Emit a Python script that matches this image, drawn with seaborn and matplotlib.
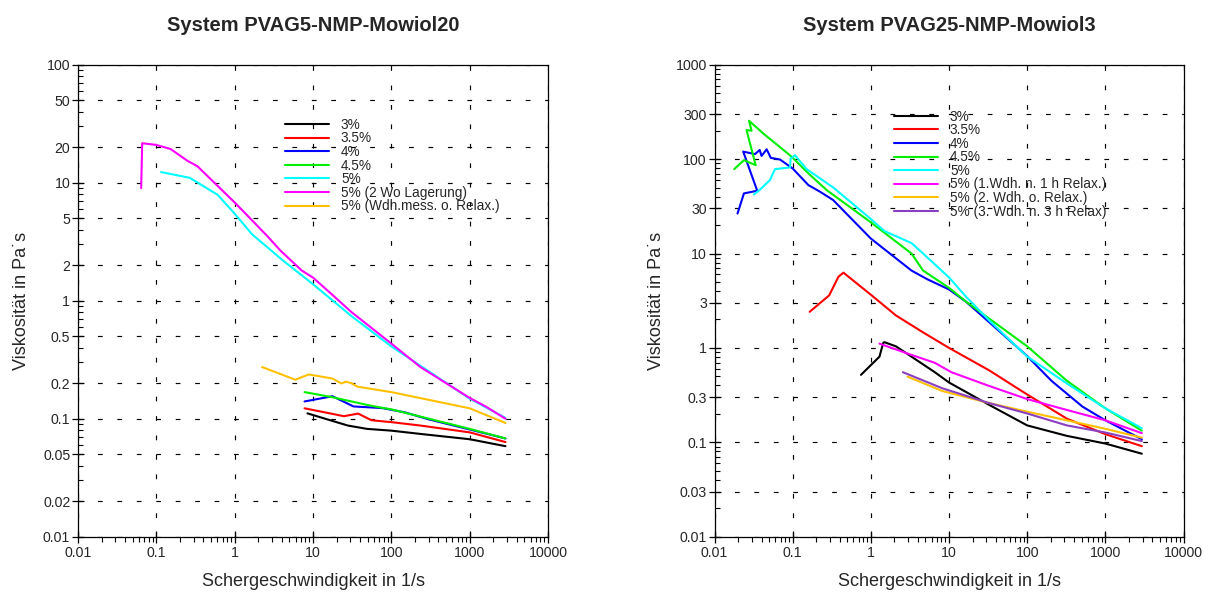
import numpy as np
import pandas as pd
import matplotlib
matplotlib.use("Agg")
import matplotlib.pyplot as plt
import seaborn as sns
from matplotlib.ticker import LogLocator, FixedLocator, FixedFormatter, NullFormatter

sns.set_style("ticks")
plt.rcParams["font.family"] = ["Liberation Sans", "DejaVu Sans"]
plt.rcParams["lines.scale_dashes"] = False

# ---------------- Panel 1: System PVAG5-NMP-Mowiol20 ----------------
p1_title = "System PVAG5-NMP-Mowiol20"
p1_labels = ["3%", "3.5%", "4%", "4.5%", "5%", "5% (2 Wo Lagerung)", "5% (Wdh.mess. o. Relax.)"]
p1_colors = ["#000000", "#ff0000", "#0000ff", "#00ee00", "#00ffff", "#ff00ff", "#ffc000"]

p1_c3_x = [8.5, 15, 27.8, 48.8, 100, 235, 1000, 2864]
p1_c3_y = [0.111, 0.099, 0.0875, 0.082, 0.0792, 0.0743, 0.067, 0.0585]
p1_c35_x = [7.8, 24.8, 37.7, 55.8, 100, 235, 1000, 2864]
p1_c35_y = [0.1225, 0.105, 0.1105, 0.097, 0.0935, 0.0875, 0.0766, 0.0634]
p1_c4_x = [7.8, 17.7, 32.9, 77, 150, 295, 1000, 2864]
p1_c4_y = [0.140, 0.155, 0.127, 0.123, 0.113, 0.099, 0.081, 0.068]
p1_c45_x = [7.8, 17.7, 48.8, 70, 100, 1000, 2864]
p1_c45_y = [0.168, 0.152, 0.131, 0.125, 0.120, 0.082, 0.068]
p1_c5_x = [0.115, 0.267, 0.606, 1, 1.67, 4.11, 10, 31, 100, 1000, 2864]
p1_c5_y = [12.3, 11.0, 7.9, 5.46, 3.65, 2.20, 1.38, 0.74, 0.41, 0.148, 0.1016]
p1_c5w_x = [0.064, 0.066, 0.1, 0.152, 0.247, 0.334, 1, 2.62, 3.88, 7.2, 10, 17.7, 31,
            100, 235, 1000, 1597, 2864]
p1_c5w_y = [9.0, 21.6, 20.9, 19.3, 15.4, 13.8, 6.8, 3.52, 2.64, 1.80, 1.57, 1.12, 0.80,
            0.433, 0.274, 0.150, 0.127, 0.100]
p1_c5r_x = [2.24, 5.95, 8.83, 17.7, 23, 26.4, 31, 36.7, 100, 1000, 2864]
p1_c5r_y = [0.274, 0.214, 0.237, 0.219, 0.199, 0.206, 0.2, 0.187, 0.168, 0.1225, 0.092]

p1_yticks = [0.01, 0.02, 0.05, 0.1, 0.2, 0.5, 1, 2, 5, 10, 20, 50, 100]
p1_yticklabels = ["0.01", "0.02", "0.05", "0.1", "0.2", "0.5", "1", "2", "5", "10", "20", "50", "100"]

# ---------------- Panel 2: System PVAG25-NMP-Mowiol3 ----------------
p2_title = "System PVAG25-NMP-Mowiol3"
p2_labels = ["3%", "3.5%", "4%", "4.5%", "5%", "5% (1.Wdh. n. 1 h Relax.)",
             "5% (2. Wdh. o. Relax.)", "5% (3. Wdh. n. 3 h Relax)"]
p2_colors = ["#000000", "#ff0000", "#0000ff", "#00ee00", "#00ffff", "#ff00ff", "#ffc000", "#8a3fc0"]

p2_c3_x = [0.748, 1.29, 1.44, 1.49, 2.09, 3.31, 6.58, 10, 32.7, 100, 322, 1000, 2931]
p2_c3_y = [0.518, 0.808, 1.13, 1.15, 1.04, 0.808, 0.553, 0.43, 0.249, 0.151, 0.117, 0.097, 0.0757]
p2_c35_x = [0.165, 0.293, 0.385, 0.446, 1, 2.09, 4.66, 10, 32.7, 100, 322, 1000, 2931]
p2_c35_y = [2.41, 3.6, 5.67, 6.27, 3.66, 2.21, 1.46, 1.0, 0.578, 0.321, 0.178, 0.122, 0.091]
p2_c4_x = [0.0197, 0.0238, 0.0352, 0.0233, 0.033, 0.0378, 0.040, 0.0465, 0.0525, 0.0688,
           0.1, 0.159, 0.224, 0.33, 1, 3.31, 5.24, 10, 16.4, 32.7, 100, 204, 509, 1000, 2931]
p2_c4_y = [26.5, 43.3, 46.2, 120, 113, 125, 108, 127, 103, 99,
           79.6, 53, 45.1, 36.8, 14.4, 6.6, 5.35, 4.16, 3.1, 1.87, 0.82, 0.449, 0.239, 0.171, 0.1077]
p2_c45_x = [0.0179, 0.0238, 0.0336, 0.0257, 0.0298, 0.0276, 0.042, 0.0565, 0.0971, 0.159,
            0.273, 1, 3.31, 4.66, 10, 16.4, 100, 322, 1000, 2931]
p2_c45_y = [78.3, 97.5, 86.3, 203, 200, 255, 187, 153, 106, 70.5,
            46.9, 21.4, 10, 6.6, 4.33, 3.1, 1.04, 0.449, 0.229, 0.1328]
p2_c5_x = [0.0319, 0.038, 0.0512, 0.0594, 0.0925, 0.0943, 0.107, 0.15, 0.336, 1, 1.49,
           3.31, 4.66, 10, 16.4, 32.7, 100, 322, 1000, 2931]
p2_c5_y = [42.2, 47.3, 59.9, 78.3, 81.6, 101.6, 110, 78.5, 49.5, 23.2, 17.3,
           12.9, 10, 5.58, 3.51, 1.95, 0.81, 0.42, 0.229, 0.141]
p2_c5a_x = [1.29, 3.31, 6.58, 10.7, 32.7, 100, 322, 1000, 2931]
p2_c5a_y = [1.11, 0.843, 0.695, 0.553, 0.395, 0.287, 0.22, 0.171, 0.125]
p2_c5b_x = [2.95, 8.26, 32.7, 100, 322, 1000, 2931]
p2_c5b_y = [0.496, 0.349, 0.26, 0.211, 0.171, 0.139, 0.112]
p2_c5c_x = [2.57, 8.26, 32.7, 100, 322, 1000, 2931]
p2_c5c_y = [0.553, 0.373, 0.26, 0.202, 0.151, 0.127, 0.103]

p2_yticks = [0.01, 0.03, 0.1, 0.3, 1, 3, 10, 30, 100, 300, 1000]
p2_yticklabels = ["0.01", "0.03", "0.1", "0.3", "1", "3", "10", "30", "100", "300", "1000"]

xticks = [0.01, 0.1, 1, 10, 100, 1000, 10000]
xticklabels = ["0.01", "0.1", "1", "10", "100", "1000", "10000"]
xlabel = "Schergeschwindigkeit in 1/s"
ylabel = "Viskosität in Pa˙s"


def long_frame(labels, xs, ys):
    parts = []
    for lab, x, y in zip(labels, xs, ys):
        parts.append(pd.DataFrame({"series": lab, "rate": x, "visc": y}))
    return pd.concat(parts, ignore_index=True)


df1 = long_frame(p1_labels,
                 [p1_c3_x, p1_c35_x, p1_c4_x, p1_c45_x, p1_c5_x, p1_c5w_x, p1_c5r_x],
                 [p1_c3_y, p1_c35_y, p1_c4_y, p1_c45_y, p1_c5_y, p1_c5w_y, p1_c5r_y])
df2 = long_frame(p2_labels,
                 [p2_c3_x, p2_c35_x, p2_c4_x, p2_c45_x, p2_c5_x, p2_c5a_x, p2_c5b_x, p2_c5c_x],
                 [p2_c3_y, p2_c35_y, p2_c4_y, p2_c45_y, p2_c5_y, p2_c5a_y, p2_c5b_y, p2_c5c_y])

W, H = 1211, 594
fig = plt.figure(figsize=(W / 100, H / 100), dpi=100)
fig.patch.set_facecolor("white")
ax1 = fig.add_axes([78 / W, 1 - 536.7 / H, 470 / W, 472 / H])
ax2 = fig.add_axes([714.5 / W, 1 - 536.7 / H, 469 / W, 472 / H])

panels = [
    (ax1, df1, p1_labels, p1_colors, p1_title, p1_yticks, p1_yticklabels, (0.01, 100),
     (0.4404, 0.8875), -0.102),
    (ax2, df2, p2_labels, p2_colors, p2_title, p2_yticks, p2_yticklabels, (0.01, 1000),
     (0.3827, 0.905), -0.1045),
]

for ax, df, labels, colors, title, yt, ytl, ylim, leg_pos, ylab_x in panels:
    ax.set_xscale("log")
    ax.set_yscale("log")
    sns.lineplot(data=df, x="rate", y="visc", hue="series", hue_order=labels,
                 palette=colors, sort=False, estimator=None, units="series",
                 linewidth=1.5, ax=ax)
    ax.set_xlim(0.01, 10000)
    ax.set_ylim(*ylim)

    ax.xaxis.set_major_locator(FixedLocator(xticks))
    ax.xaxis.set_major_formatter(FixedFormatter(xticklabels))
    ax.xaxis.set_minor_locator(LogLocator(base=10, subs=np.arange(2, 10), numticks=20))
    ax.xaxis.set_minor_formatter(NullFormatter())
    ax.yaxis.set_major_locator(FixedLocator(yt))
    ax.yaxis.set_major_formatter(FixedFormatter(ytl))
    ax.yaxis.set_minor_locator(LogLocator(base=10, subs=np.arange(2, 10), numticks=20))
    ax.yaxis.set_minor_formatter(NullFormatter())

    ax.tick_params(axis="both", which="major", direction="inout", length=8, width=0.9,
                   color="black", labelsize=10.2, pad=1.5)
    ax.tick_params(axis="x", which="major", pad=2.5)
    ax.tick_params(axis="x", which="minor", direction="out", length=3.5, width=0.8, color="black")
    ax.tick_params(axis="y", which="minor", direction="in", length=3.5, width=0.8, color="black")

    ax.grid(True, which="major", color="black", linestyle=(0, (3.4, 10.6)), linewidth=0.85)
    for sp in ax.spines.values():
        sp.set_visible(True)
        sp.set_color("black")
        sp.set_linewidth(0.9)

    ax.set_xlabel(xlabel, fontsize=13)
    ax.set_ylabel(ylabel, fontsize=13)
    ax.xaxis.set_label_coords(0.5, -0.0775)
    ax.yaxis.set_label_coords(ylab_x, 0.5)
    ax.set_title(title, fontsize=14.5, fontweight="bold", pad=24)

    sns.move_legend(ax, "upper left", bbox_to_anchor=leg_pos, frameon=False, title=None,
                    fontsize=9.8, handlelength=3.26, handletextpad=0.85, labelspacing=-0.03,
                    borderpad=0, borderaxespad=0)

fig.savefig("out.png", dpi=100, facecolor="white")
